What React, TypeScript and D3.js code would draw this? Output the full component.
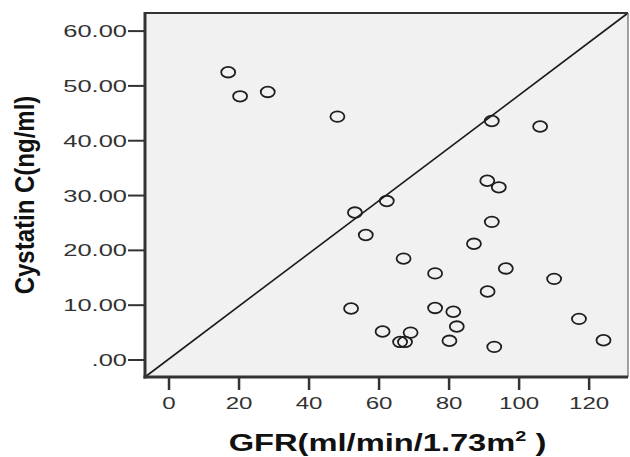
import React from "react";
import * as d3 from "d3";

const gfr = [16.9, 20.3, 28.2, 48.1, 92.2, 106.0, 90.9, 94.2, 62.2, 53.1, 92.2, 56.2, 87.1, 67.0, 76.0, 96.2, 110.0, 91.0, 52.0, 76.0, 81.2, 82.2, 61.0, 69.0, 66.0, 67.4, 80.1, 92.9, 117.1, 124.1];
const cystatin = [52.5, 48.1, 48.9, 44.4, 43.6, 42.6, 32.7, 31.5, 29.0, 26.9, 25.2, 22.8, 21.2, 18.5, 15.8, 16.7, 14.8, 12.5, 9.4, 9.5, 8.8, 6.1, 5.2, 5.0, 3.3, 3.3, 3.5, 2.4, 7.5, 3.6];
const xTicks = [0, 20, 40, 60, 80, 100, 120];
const yTicks = [0, 10, 20, 30, 40, 50, 60];
const xDomain = [-6.86, 131.1];
const yDomain = [-3.1, 63.3];

const W = 630, H = 457;
const L = 145, R = 628, T = 13, B = 377;

export default function App() {
  const x = d3.scaleLinear().domain(xDomain).range([L, R]);
  const y = d3.scaleLinear().domain(yDomain).range([B, T]);
  const fmtY = (v: number) => (v === 0 ? ".00" : d3.format(".2f")(v));
  const font = "'Liberation Sans', Arial, sans-serif";
  const diag = d3.line()([[x(xDomain[0]), y(yDomain[0])], [x(xDomain[1]), y(yDomain[1])]]) as string;
  return (
    <svg width={W} height={H} style={{ position: "absolute", left: 0, top: 0 }} fontFamily={font}>
      <rect x={0} y={0} width={W} height={H} fill="#fff" />
      <rect x={L} y={T} width={R - L} height={B - T} fill="#f1f1f1" />
      <path d={diag} stroke="#1a1a1a" strokeWidth={1.6} fill="none" />
      {gfr.map((g, i) => (
        <ellipse key={i} cx={x(g)} cy={y(cystatin[i])} rx={7} ry={5.3} fill="none" stroke="#1e1e1e" strokeWidth={1.8} />
      ))}
      {/* frame */}
      <line x1={L} x2={R} y1={T} y2={T} stroke="#333" strokeWidth={2} />
      <line x1={R} x2={R} y1={T} y2={B} stroke="#666" strokeWidth={1.2} />
      <line x1={L} x2={L} y1={T - 1} y2={B + 1.5} stroke="#333" strokeWidth={3} />
      <line x1={L - 1.5} x2={R} y1={B} y2={B} stroke="#333" strokeWidth={3} />
      {/* y ticks */}
      {yTicks.map((t) => (
        <g key={t}>
          <line x1={L - 17} x2={L} y1={y(t)} y2={y(t)} stroke="#333" strokeWidth={2} />
          <text transform={`translate(${L - 18},${y(t) + 6}) scale(1.5,1)`} textAnchor="end" fontSize={17} fill="#333">
            {fmtY(t)}
          </text>
        </g>
      ))}
      {/* x ticks */}
      {xTicks.map((t) => (
        <g key={t}>
          <line x1={x(t)} x2={x(t)} y1={B} y2={B + 13} stroke="#333" strokeWidth={2.5} />
          <text transform={`translate(${x(t)},${409}) scale(1.42,1)`} textAnchor="middle" fontSize={17} fill="#333">
            {t}
          </text>
        </g>
      ))}
      {/* x label */}
      <text transform={`translate(387.5,451) scale(1.42,1)`} textAnchor="middle" fontSize={23} fontWeight="bold" fill="#111">
        GFR(ml/min/1.73m<tspan fontSize={14} dy={-10}>2</tspan><tspan dy={10}> )</tspan>
      </text>
      {/* y label */}
      <text transform={`translate(34,195) scale(1.15,1) rotate(-90)`} textAnchor="middle" fontSize={24} fontWeight="bold" fill="#111">
        Cystatin C(ng/ml)
      </text>
    </svg>
  );
}
